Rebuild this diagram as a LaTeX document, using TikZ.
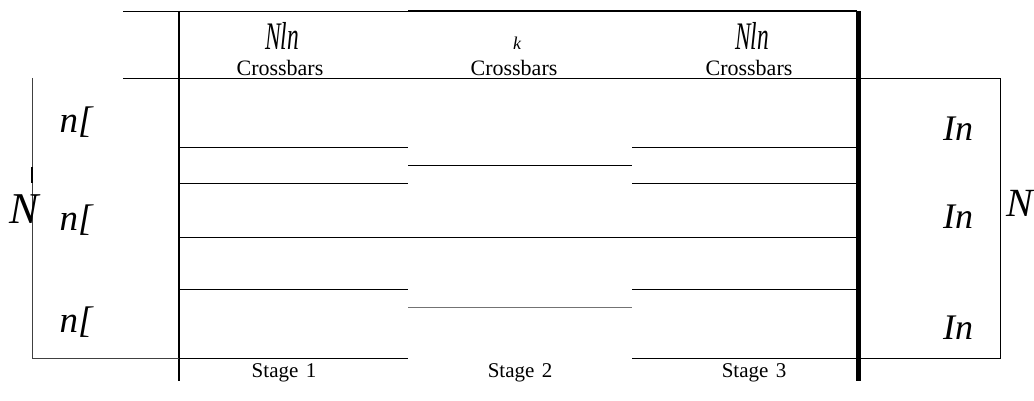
\documentclass[tikz,border=0pt]{standalone}
\usepackage{fontspec}
\usepackage{graphicx}
\setmainfont{Liberation Serif}
\newcommand{\fsz}[1]{\fontsize{#1}{#1}\selectfont}
\newcommand{\narrow}[1]{\scalebox{0.6}[1]{#1}}
\begin{document}
\begin{tikzpicture}[x=1pt,y=-1pt,line width=0.9pt]
    \useasboundingbox (0,0) rectangle (1034,401);
    % frame
    \draw (123,11) -- (408,11);
    \draw[line width=1.4pt] (408,11) -- (857,11);
    \draw (123,78) -- (1000,78) -- (1000,358) -- (857,358);
    \draw[line width=1.3pt] (179,11) -- (179,381);
    \draw[black!75] (32,78) -- (32,358) -- (179,358);
    \draw[line width=1.6pt] (32,167) -- (32,183);
    % crossbar lines
    \foreach \y in {147,183,289,358} {
        \draw (179,\y) -- (408,\y);
        \draw (632,\y) -- (857,\y);
    }
    \draw (179,237) -- (857,237);
    \draw (408,165) -- (632,165);
    \draw[black!55] (408,307) -- (632,307);
    \draw[line width=5pt] (858,11) -- (858,381);
    % headers
    \node[anchor=base, inner sep=0, font=\fsz{39}\itshape] (top1) at (282,50) {\narrow{Nln}};
    \node[anchor=base, inner sep=0, font=\fsz{18}\itshape] (top2) at (517,50) {k};
    \node[anchor=base, inner sep=0, font=\fsz{39}\itshape] (top3) at (752,50) {\narrow{Nln}};
    \foreach \x/\n in {280/1,514/2,749/3} {
        \node[anchor=base, inner sep=0, font=\fsz{22}] (cb\n) at (\x,76) {Crossbars};
    }
    % stage labels
    \foreach \x/\n in {284/1,520/2,754/3} {
        \node[anchor=base, inner sep=0, font=\fsz{21}] (stage\n) at (\x,377) {Stage\hspace{0.35em}\n};
    }
    % side labels
    \foreach \y/\n in {133/1,230/2,332/3} {
        \node[anchor=base, inner sep=0, font=\fsz{37}\itshape] (in\n) at (76,\y) {n[};
    }
    \foreach \y/\n in {141/1,229/2,339/3} {
        \node[anchor=base, inner sep=0, font=\fsz{36}\itshape] (out\n) at (958,\y) {In};
    }
    \node[anchor=base, inner sep=0, font=\fsz{44}\itshape] (nleft) at (24,223) {N};
    \node[anchor=base west, inner sep=0, font=\fsz{40}\itshape] (nright) at (1006,216) {N};
\end{tikzpicture}
\end{document}
